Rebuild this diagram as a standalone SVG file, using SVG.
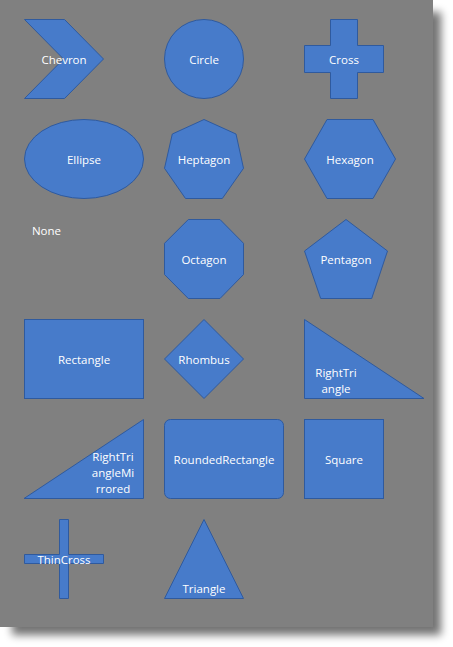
<svg xmlns="http://www.w3.org/2000/svg" width="453" height="647" viewBox="0 0 453 647">
<defs>
<filter id="sh" x="-10%" y="-10%" width="130%" height="130%"><feGaussianBlur stdDeviation="4"/></filter>
<style>
.s{fill:#477bca;stroke:#2f5a9e;stroke-width:1}
.t{font-family:"Open Sans","Noto Sans",sans-serif;font-size:11.5px;fill:#ffffff;text-anchor:middle}
</style>
</defs>
<rect x="0" y="0" width="453" height="647" fill="#ffffff"/>
<rect x="12" y="12" width="429" height="623" fill="#000" opacity="0.55" filter="url(#sh)"/>
<rect x="0" y="0" width="433" height="627" fill="#808080"/>
<g id="chevron"><polygon class="s" points="24.5,19.5 64.5,19.5 103.5,59 64.5,98.5 24.5,98.5 63.5,59"/><text class="t" x="64" y="64">Chevron</text></g>
<g id="circle"><circle class="s" cx="204" cy="59" r="39.5"/><text class="t" x="204" y="64">Circle</text></g>
<g id="cross"><polygon class="s" points="330.5,19.5 357.5,19.5 357.5,45.5 383.5,45.5 383.5,72.5 357.5,72.5 357.5,98.5 330.5,98.5 330.5,72.5 304.5,72.5 304.5,45.5 330.5,45.5"/><text class="t" x="344" y="64">Cross</text></g>
<g id="ellipse"><ellipse class="s" cx="84" cy="159" rx="59.5" ry="39.5"/><text class="t" x="84" y="164">Ellipse</text></g>
<g id="heptagon"><polygon class="s" points="204,119.5 236,134 243.5,168.3 222.3,198.5 185.5,198.5 164.5,168.3 172.3,134"/><text class="t" x="204" y="164">Heptagon</text></g>
<g id="hexagon"><polygon class="s" points="304.5,159 327,119.5 373,119.5 395.5,159 373,198.5 327,198.5"/><text class="t" x="350" y="164">Hexagon</text></g>
<g id="none"><text class="t" x="46.5" y="235">None</text></g>
<g id="octagon"><polygon class="s" points="188.3,219.5 220,219.5 243.5,243.3 243.5,274.5 220,298.5 188.3,298.5 164.5,274.5 164.5,243.3"/><text class="t" x="204" y="264">Octagon</text></g>
<g id="pentagon"><polygon class="s" points="346,219.5 387.5,251 371.7,298.5 320.7,298.5 304.5,251"/><text class="t" x="346" y="264">Pentagon</text></g>
<g id="rectangle"><rect class="s" x="24.5" y="319.5" width="119" height="79"/><text class="t" x="84" y="364">Rectangle</text></g>
<g id="rhombus"><polygon class="s" points="204,319.5 243.5,359 204,398.5 164.5,359"/><text class="t" x="204" y="364">Rhombus</text></g>
<g id="righttriangle"><polygon class="s" points="304.5,319.5 424,398.5 304.5,398.5"/><text class="t" x="336" y="377">RightTri</text><text class="t" x="336" y="393">angle</text></g>
<g id="righttrianglemirrored"><polygon class="s" points="143.5,419.5 143.5,498.5 24,498.5"/><text class="t" x="113" y="461">RightTri</text><text class="t" x="113" y="477">angleMi</text><text class="t" x="113" y="493">rrored</text></g>
<g id="roundedrectangle"><rect class="s" x="164.5" y="419.5" width="119" height="79" rx="6"/><text class="t" x="224" y="464">RoundedRectangle</text></g>
<g id="square"><rect class="s" x="304.5" y="419.5" width="79" height="79"/><text class="t" x="344" y="464">Square</text></g>
<g id="thincross"><polygon class="s" points="59.5,519.5 68.5,519.5 68.5,554.5 103.5,554.5 103.5,563.5 68.5,563.5 68.5,598.5 59.5,598.5 59.5,563.5 24.5,563.5 24.5,554.5 59.5,554.5"/><text class="t" x="64" y="564">ThinCross</text></g>
<g id="triangle"><polygon class="s" points="204,519.5 243.5,598.5 164.5,598.5"/><text class="t" x="204" y="593">Triangle</text></g>
<g id="connectors"></g>
</svg>
